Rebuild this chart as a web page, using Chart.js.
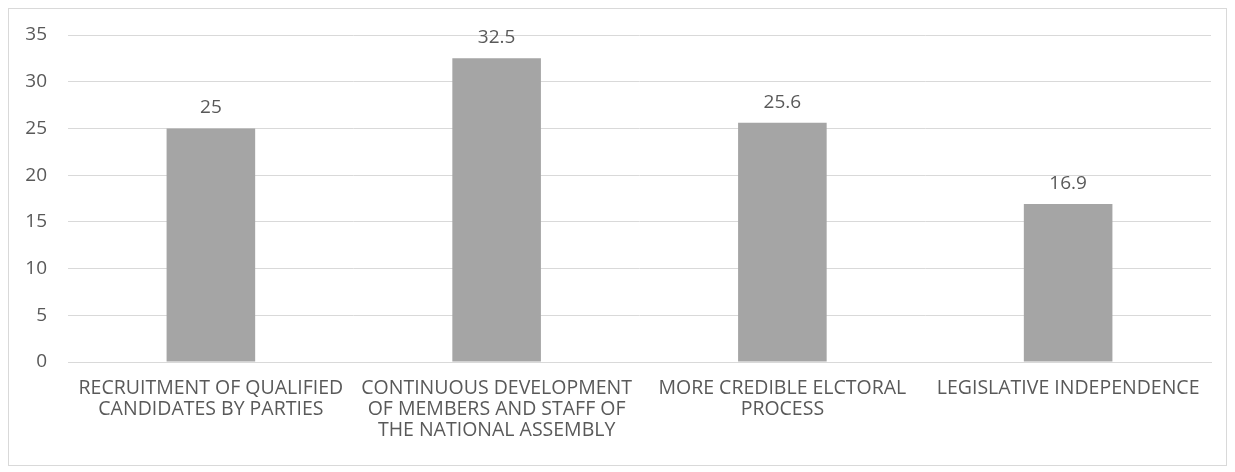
<!DOCTYPE html>
<html>
<head>
<meta charset="utf-8">
<script src="https://cdn.jsdelivr.net/npm/chart.js@4.4.0/dist/chart.umd.min.js"></script>
<style>
  body { margin: 0; background: #fff; }
  #caja { position: absolute; left: 8px; top: 8px; width: 1217px; height: 456px; border: 1px solid #d9d9d9; }
  canvas { display: block; }
</style>
</head>
<body>
<div id="caja"><canvas id="grafica" width="1217" height="456"></canvas></div>
<script>
// categorias (etiquetas en varias lineas como en la original)
const categorias = [
    ['RECRUITMENT OF QUALIFIED', 'CANDIDATES BY PARTIES'],
    ['CONTINUOUS DEVELOPMENT', 'OF MEMBERS AND STAFF OF', 'THE NATIONAL ASSEMBLY'],
    ['MORE CREDIBLE ELCTORAL', 'PROCESS'],
    ['LEGISLATIVE INDEPENDENCE']
];
const valores = [25, 32.5, 25.6, 16.9];
const ticksY = [0, 5, 10, 15, 20, 25, 30, 35];

const fuente = "'Open Sans', sans-serif";
const colorTexto = '#595959';

// plugin simple para poner el valor encima de cada barra
const etiquetasValor = {
    id: 'etiquetasValor',
    afterDatasetsDraw(chart) {
        const ctx = chart.ctx;
        ctx.save();
        ctx.font = '19px ' + fuente;
        ctx.fillStyle = colorTexto;
        ctx.textAlign = 'center';
        ctx.textBaseline = 'alphabetic';
        chart.getDatasetMeta(0).data.forEach((barra, i) => {
            ctx.fillText(String(valores[i]), barra.x, barra.y - 15);
        });
        ctx.restore();
    }
};

const ctx = document.getElementById('grafica').getContext('2d');
new Chart(ctx, {
    type: 'bar',
    data: {
        labels: categorias,
        datasets: [{
            data: valores,
            backgroundColor: '#a5a5a5',
            borderWidth: 0,
            barPercentage: 0.62,
            categoryPercentage: 0.5
        }]
    },
    options: {
        responsive: false,
        animation: false,
        layout: { padding: { top: 26, right: 15, left: 0, bottom: 0 } },
        scales: {
            y: {
                min: 0,
                max: 35,
                afterBuildTicks: (eje) => { eje.ticks = ticksY.map(v => ({ value: v })); },
                afterFit: (eje) => { eje.width = 59; eje.paddingTop = 0; eje.paddingBottom = 0; },
                grid: { color: '#d9d9d9', drawTicks: false },
                border: { display: false },
                ticks: { color: colorTexto, font: { family: fuente, size: 19 }, padding: 21 }
            },
            x: {
                afterFit: (eje) => { eje.height = 103; },
                grid: { display: false, drawTicks: false },
                border: { color: '#d9d9d9' },
                ticks: { color: colorTexto, font: { family: fuente, size: 19.5, lineHeight: 1.08 }, maxRotation: 0, autoSkip: false, padding: 16 }
            }
        },
        plugins: {
            legend: { display: false },
            tooltip: { enabled: false }
        }
    },
    plugins: [etiquetasValor]
});
</script>
</body>
</html>
